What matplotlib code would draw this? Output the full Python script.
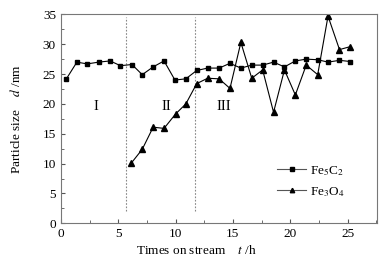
import matplotlib.pyplot as plt
from matplotlib.ticker import MultipleLocator

# 数据
t_c = [0.45, 1.4, 2.3, 3.3, 4.3, 5.2, 6.2, 7.1, 8.05, 9.0, 9.95, 10.9, 11.85,
       12.8, 13.8, 14.75, 15.7, 16.65, 17.6, 18.55, 19.5, 20.45, 21.4, 22.4, 23.3, 24.3, 25.25]
d_c = [24.1, 27.0, 26.7, 27.0, 27.2, 26.4, 26.6, 24.9, 26.2, 27.2, 24.0, 24.2, 25.6,
       26.0, 26.0, 26.8, 26.0, 26.5, 26.5, 27.0, 26.2, 27.2, 27.5, 27.4, 27.0, 27.3, 27.1]
t_o = [6.15, 7.1, 8.05, 9.0, 10.0, 10.9, 11.85,
       12.8, 13.8, 14.75, 15.7, 16.65, 17.6, 18.55, 19.5, 20.45, 21.4, 22.4, 23.3, 24.3, 25.25]
d_o = [10.1, 12.4, 16.1, 15.9, 18.3, 20.0, 23.4,
       24.3, 24.2, 22.6, 30.3, 24.3, 25.7, 18.6, 25.7, 21.5, 26.5, 24.9, 34.7, 29.1, 29.6]
stage_lines = [5.67, 11.73]
stage_labels = ["I", "II", "III"]
stage_x = [3.1, 9.2, 14.2]

plt.rcParams['font.family'] = ['Liberation Serif', 'DejaVu Serif']
plt.rcParams['mathtext.fontset'] = 'stix'

fig = plt.figure(figsize=(3.9, 2.66), dpi=100)
ax = fig.add_axes([0.156, 0.1605, 0.8115, 0.7855])

for x in stage_lines:
    ax.plot([x, x], [2, 34.5], color='#888888', linestyle=(0, (1.5, 1.5)), linewidth=0.8)

ax.plot(t_c, d_c, color='black', marker='s', markersize=3.5, linewidth=0.8,
        label=r'Fe$_5$C$_2$')
ax.plot(t_o, d_o, color='black', marker='^', markersize=4, linewidth=0.8,
        label=r'Fe$_3$O$_4$')

for x, s in zip(stage_x, stage_labels):
    ax.text(x, 19.6, s, fontsize=10.5, ha='center', va='center')

ax.set_xlim(0, 27.6)
ax.set_ylim(0, 35)
ax.xaxis.set_major_locator(MultipleLocator(5))
ax.xaxis.set_minor_locator(MultipleLocator(2.5))
ax.yaxis.set_major_locator(MultipleLocator(5))
ax.yaxis.set_minor_locator(MultipleLocator(2.5))
ax.tick_params(which='both', direction='in', labelsize=9.5, color='#555555')
ax.tick_params(which='major', length=3)
ax.tick_params(which='minor', length=2)
for sp in ax.spines.values():
    sp.set_color('#777777')
    sp.set_linewidth(0.8)

ax.set_xlabel(r'Times on stream    $t$ /h', fontsize=9.5)
ax.set_ylabel(r'Particle size    $d$ /nm', fontsize=9.5)
ax.xaxis.set_label_coords(0.428, -0.10)
ax.yaxis.set_label_coords(-0.12, 0.5)

leg = ax.legend(loc='lower right', bbox_to_anchor=(0.935, 0.06), frameon=False, fontsize=9.5,
                handlelength=2.2, handletextpad=0.3, labelspacing=0.55, markerscale=0.8)
for h in leg.get_lines():
    h.set_color('#555555')
    h.set_markerfacecolor('black')
    h.set_markeredgecolor('black')

plt.savefig('out.png', dpi=100)
